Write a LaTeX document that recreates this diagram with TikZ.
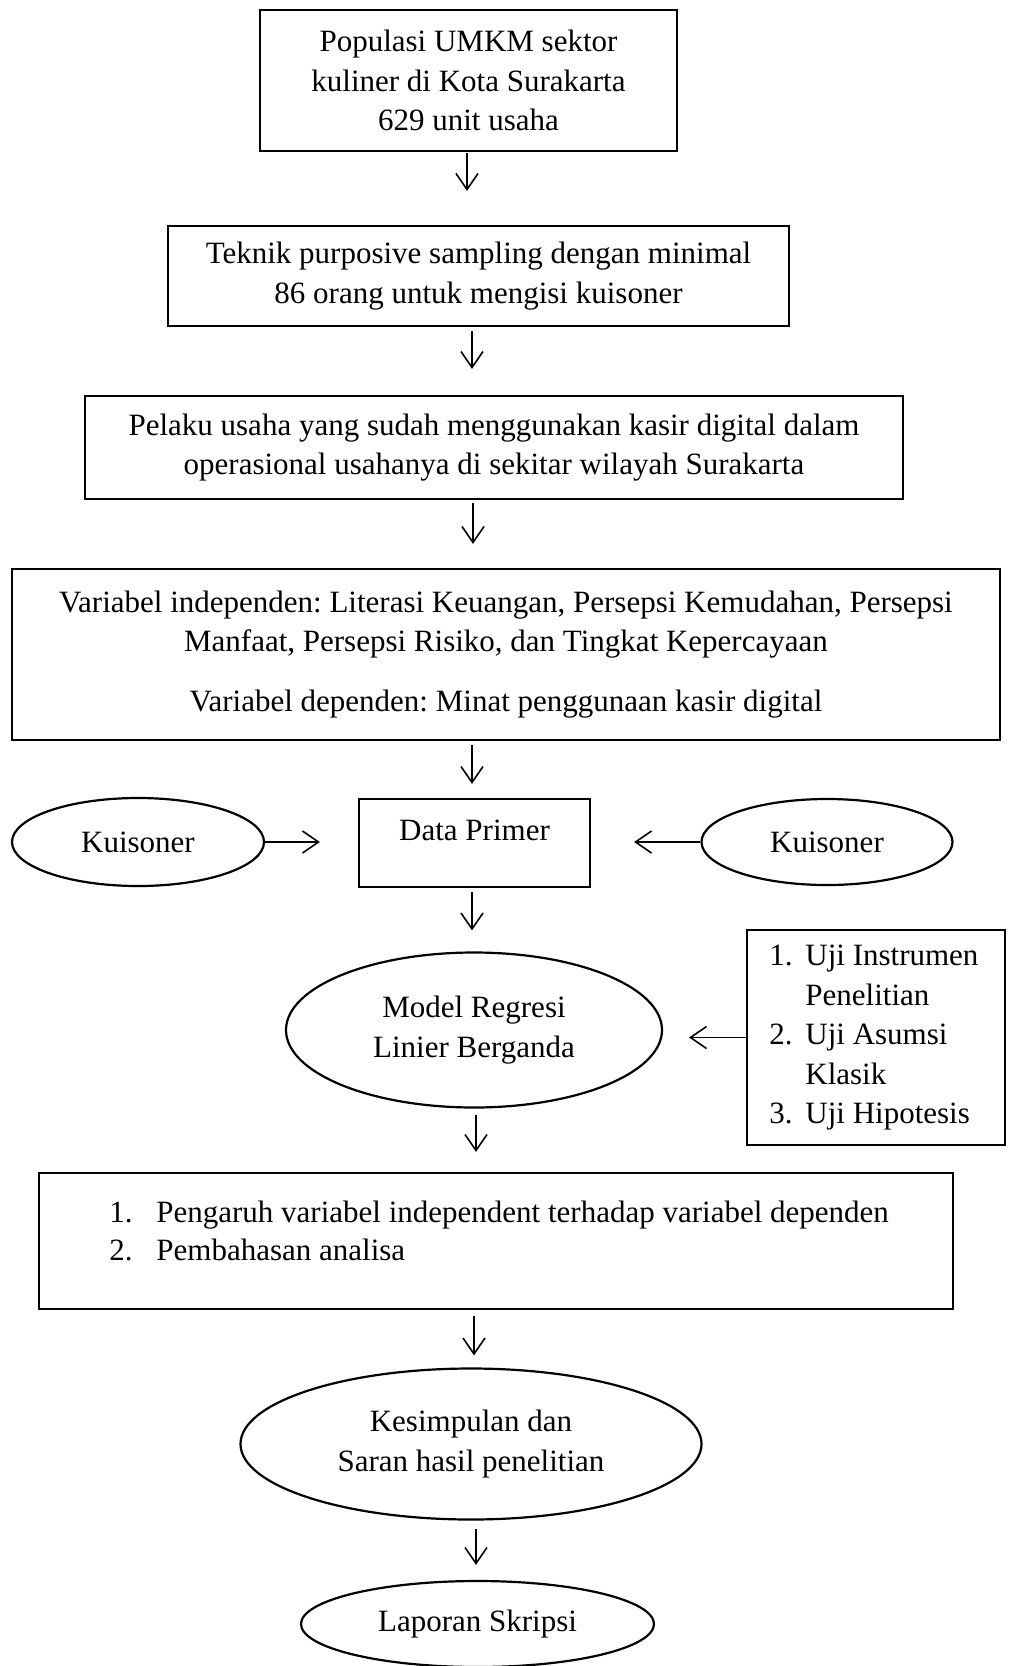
\documentclass[tikz,border=0pt]{standalone}
\usepackage{fontspec}
\setmainfont{Liberation Serif}
\usetikzlibrary{shapes.geometric,arrows.meta,calc}
\def\pxu{0.5pt}
\frenchspacing
\begin{document}
\begin{tikzpicture}[x=0.5pt,y=-0.5pt,
  font=\fontsize{15.5pt}{19.75pt}\selectfont\frenchspacing,
  boxnode/.style={draw, line width=1.1pt, rectangle, inner sep=0pt, align=center},
  ellnode/.style={draw, line width=1.1pt, ellipse, inner sep=0pt, align=center},
  arr/.style={draw, line width=0.8pt, -{Straight Barb[length=8pt,width=11pt,line width=0.8pt]}},
  txt/.style={inner sep=0pt, align=left}
]
\useasboundingbox (0,0) rectangle (1008,1666);

\node[boxnode, minimum width=417*\pxu, minimum height=141*\pxu] (b1) at (468.5,80.5)
  {Populasi UMKM sektor\\kuliner di Kota Surakarta\\629 unit usaha};
\node[boxnode, minimum width=621*\pxu, minimum height=100*\pxu] (b2) at (478.5,276)
  {Teknik purposive sampling dengan minimal\\86 orang untuk mengisi kuisoner};
\node[boxnode, minimum width=818*\pxu, minimum height=103*\pxu] (b3) at (494,447.5)
  {Pelaku usaha yang sudah menggunakan kasir digital dalam\\operasional usahanya di sekitar wilayah Surakarta};
\node[boxnode, minimum width=988*\pxu, minimum height=171*\pxu] (b4) at (506,654.5)
  {Variabel independen: Literasi Keuangan, Persepsi Kemudahan, Persepsi\\Manfaat, Persepsi Risiko, dan Tingkat Kepercayaan\\[10pt]Variabel dependen: Minat penggunaan kasir digital};

\node[boxnode, minimum width=231*\pxu, minimum height=88*\pxu] (dp) at (474.5,843) {};
\node[inner sep=0pt] (dpt) at (474.5,830) {Data Primer};
\node[ellnode, minimum width=252*\pxu, minimum height=88*\pxu] (k1) at (138,842) {Kuisoner};
\node[ellnode, minimum width=251*\pxu, minimum height=86*\pxu] (k2) at (827,842) {Kuisoner};

\node[ellnode, minimum width=376*\pxu, minimum height=155*\pxu] (m) at (474,1030)
  {Model Regresi\\Linier Berganda};
\node[boxnode, minimum width=258*\pxu, minimum height=215*\pxu] (u) at (876,1037.5) {};
\node[txt, anchor=west] (ut) at (769,1038)
  {\makebox[18pt][l]{1.}Uji Instrumen\\\makebox[18pt][l]{}Penelitian\\\makebox[18pt][l]{2.}Uji Asumsi\\\makebox[18pt][l]{}Klasik\\\makebox[18pt][l]{3.}Uji Hipotesis};

\node[boxnode, minimum width=914*\pxu, minimum height=136*\pxu] (b7) at (496,1241) {};
\node[txt, anchor=west, font=\fontsize{15.5pt}{19pt}\selectfont\frenchspacing] (b7t) at (109,1231)
  {\makebox[23.5pt][l]{1.}Pengaruh variabel independent terhadap variabel dependen\\\makebox[23.5pt][l]{2.}Pembahasan analisa};

\node[ellnode, minimum width=461*\pxu, minimum height=151*\pxu] (ks) at (471,1444)
  {Kesimpulan dan\\Saran hasil penelitian};
\node[ellnode, minimum width=353*\pxu, minimum height=86*\pxu] (lp) at (477.5,1624) {Laporan Skripsi};

\coordinate (x1) at (467,0);
\coordinate (x2) at (472,0);
\coordinate (x3) at (473,0);
\coordinate (x6) at (476,0);
\coordinate (x7) at (474,0);

\draw[arr, shorten <=1*\pxu, shorten >=34*\pxu] (x1 |- b1.south) -- (x1 |- b2.north);
\draw[arr, shorten <=4*\pxu, shorten >=26*\pxu] (x2 |- b2.south) -- (x2 |- b3.north);
\draw[arr, shorten <=3*\pxu, shorten >=24*\pxu] (x3 |- b3.south) -- (x3 |- b4.north);
\draw[arr, shorten <=4*\pxu, shorten >=14*\pxu] (x2 |- b4.south) -- (x2 |- dp.north);
\draw[arr, shorten <=4*\pxu, shorten >=21*\pxu] (x2 |- dp.south) -- (x2 |- m.north);
\draw[arr, shorten <=6*\pxu, shorten >=20*\pxu] (x6 |- m.south) -- (x6 |- b7.north);
\draw[arr, shorten <=6*\pxu, shorten >=12*\pxu] (x7 |- b7.south) -- (x7 |- ks.north);
\draw[arr, shorten <=8*\pxu, shorten >=15*\pxu] (x6 |- ks.south) -- (x6 |- lp.north);

\draw[arr, shorten >=38*\pxu] (k1.east) -- (k1.east -| dp.west);
\draw[arr, shorten >=43*\pxu] (k2.west) -- (k2.west -| dp.east);
\draw[arr, shorten >=26*\pxu] (u.west) -- (u.west -| m.east);
\end{tikzpicture}
\end{document}
